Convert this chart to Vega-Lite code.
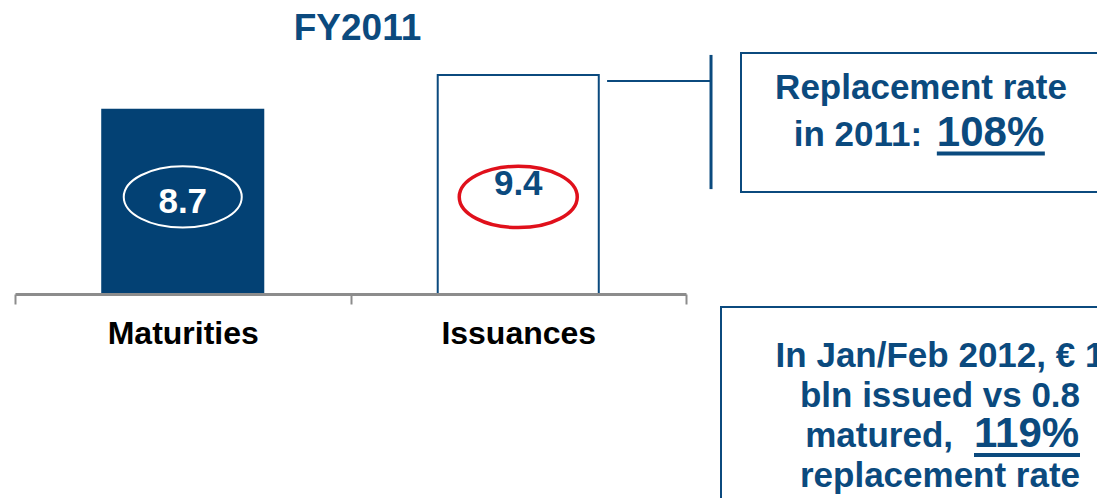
{
  "$schema": "https://vega.github.io/schema/vega-lite/v6.json",
  "background": "white",
  "padding": {"left": 14, "top": 10, "right": 0, "bottom": 0},
  "bounds": "flush",
  "spacing": 35,
  "config": {
    "font": "Liberation Sans",
    "view": {"stroke": null}
  },
  "hconcat": [
    {
      "width": 671,
      "height": 241,
      "title": {
        "text": "FY2011",
        "fontSize": 37,
        "fontWeight": "bold",
        "color": "#0b4a7e",
        "font": "Liberation Sans",
        "anchor": "middle",
        "dx": 7,
        "offset": 5
      },
      "data": {"values": [
        {"category": "Maturities", "value": 8.7},
        {"category": "Issuances", "value": 9.4}
      ]},
      "encoding": {
        "x": {
          "field": "category",
          "type": "nominal",
          "sort": null,
          "scale": {"paddingInner": 0, "paddingOuter": 0},
          "axis": {
            "title": null,
            "labelAngle": 0,
            "labelFont": "Liberation Sans",
            "labelFontSize": 32,
            "labelFontWeight": "bold",
            "labelColor": "#000000",
            "labelPadding": 14,
            "domainColor": "#8c8c8c",
            "domainWidth": 3,
            "tickColor": "#8c8c8c",
            "tickWidth": 2,
            "tickSize": 10,
            "tickBand": "extent",
            "grid": false,
            "zindex": 1
          }
        }
      },
      "layer": [
        {
          "mark": {"type": "bar", "width": {"band": 0.48}, "strokeWidth": 2},
          "encoding": {
            "y": {
              "field": "value",
              "type": "quantitative",
              "scale": {"domain": [5, 9.842], "zero": false, "nice": false},
              "axis": null
            },
            "y2": {"datum": 5},
            "fill": {
              "condition": {"test": "datum.category === 'Maturities'", "value": "#034174"},
              "value": "#ffffff"
            },
            "stroke": {
              "condition": {"test": "datum.category === 'Maturities'", "value": "#034174"},
              "value": "#0b4a7e"
            }
          }
        },
        {
          "mark": {
            "type": "point",
            "shape": "M-1,0A1,0.52,0,1,0,1,0A1,0.52,0,1,0,-1,0Z",
            "size": 13924,
            "filled": false,
            "opacity": 1
          },
          "encoding": {
            "y": {"datum": 6.95, "type": "quantitative"},
            "stroke": {
              "condition": {"test": "datum.category === 'Maturities'", "value": "#ffffff"},
              "value": "#e0101b"
            },
            "strokeWidth": {
              "condition": {"test": "datum.category === 'Maturities'", "value": 2},
              "value": 3.5
            }
          }
        },
        {
          "transform": [{"calculate": "(datum.value + 5) / 2", "as": "mid"}],
          "mark": {"type": "text", "fontSize": 35, "fontWeight": "bold", "baseline": "middle", "font": "Liberation Sans"},
          "encoding": {
            "y": {"field": "mid", "type": "quantitative"},
            "text": {"field": "value", "type": "quantitative", "format": ".1f"},
            "color": {
              "condition": {"test": "datum.category === 'Maturities'", "value": "#ffffff"},
              "value": "#0b4a7e"
            }
          }
        }
      ]
    },
    {
      "vconcat": [
        {
          "width": 360,
          "height": 139,
          "view": {"stroke": "#0b4a7e", "strokeWidth": 2},
          "data": {"values": [
            {"line": 1, "text": "Replacement rate", "kind": "center"},
            {"line": 2, "text": "in 2011:", "kind": "lead"},
            {"line": 2, "text": "108%", "kind": "figure"}
          ]},
          "layer": [
            {
              "transform": [{"filter": "datum.kind === 'center'"}],
              "mark": {"type": "text", "fontSize": 35, "fontWeight": "bold", "color": "#0b4a7e", "align": "center", "baseline": "alphabetic"},
              "encoding": {
                "x": {"datum": 0.5, "type": "quantitative", "scale": {"domain": [0, 1]}, "axis": null},
                "y": {"field": "line", "type": "quantitative", "scale": {"domain": [0.0417, 2.9375], "reverse": true}, "axis": null},
                "text": {"field": "text"}
              }
            },
            {
              "transform": [{"filter": "datum.kind === 'lead'"}],
              "mark": {"type": "text", "fontSize": 35, "fontWeight": "bold", "color": "#0b4a7e", "align": "right", "baseline": "alphabetic"},
              "encoding": {
                "x": {"datum": 0.503, "type": "quantitative"},
                "y": {"field": "line", "type": "quantitative"},
                "text": {"field": "text"}
              }
            },
            {
              "transform": [{"filter": "datum.kind === 'figure'"}],
              "mark": {"type": "text", "fontSize": 42, "fontWeight": "bold", "color": "#0b4a7e", "align": "left", "baseline": "alphabetic"},
              "encoding": {
                "x": {"datum": 0.544, "type": "quantitative"},
                "y": {"field": "line", "type": "quantitative"},
                "text": {"field": "text"}
              }
            },
            {
              "transform": [{"filter": "datum.kind === 'figure'"}],
              "mark": {"type": "rule", "color": "#0b4a7e", "strokeWidth": 4},
              "encoding": {
                "x": {"datum": 0.544, "type": "quantitative"},
                "x2": {"datum": 0.844},
                "y": {"datum": 2.167, "type": "quantitative"}
              }
            },
            {
              "transform": [{"filter": "datum.kind === 'center'"}],
              "mark": {"type": "rule", "color": "#0b4a7e", "strokeWidth": 3},
              "encoding": {
                "x": {"datum": -0.0833, "type": "quantitative"},
                "y": {"datum": 0.0417, "type": "quantitative"},
                "y2": {"datum": 2.9375}
              }
            },
            {
              "transform": [{"filter": "datum.kind === 'center'"}],
              "mark": {"type": "rule", "color": "#0b4a7e", "strokeWidth": 2},
              "encoding": {
                "x": {"datum": -0.372, "type": "quantitative"},
                "x2": {"datum": -0.0833},
                "y": {"datum": 0.604, "type": "quantitative"}
              }
            }
          ]
        },
        {
          "width": 400,
          "height": 220,
          "view": {"stroke": "#0b4a7e", "strokeWidth": 2},
          "data": {"values": [
            {"line": 1, "text": "In Jan/Feb 2012, € 1", "kind": "center"},
            {"line": 2, "text": "bln issued vs 0.8", "kind": "center"},
            {"line": 3, "text": "matured,", "kind": "lead"},
            {"line": 3, "text": "119%", "kind": "figure"},
            {"line": 4, "text": "replacement  rate", "kind": "center"}
          ]},
          "layer": [
            {
              "transform": [{"filter": "datum.kind === 'center'"}],
              "mark": {"type": "text", "fontSize": 35, "fontWeight": "bold", "color": "#0b4a7e", "align": "center", "baseline": "alphabetic"},
              "encoding": {
                "x": {"datum": 0.5475, "type": "quantitative", "scale": {"domain": [0, 1]}, "axis": null},
                "y": {"field": "line", "type": "quantitative", "scale": {"domain": [-0.0444, 4.8444], "reverse": true}, "axis": null},
                "text": {"field": "text"}
              }
            },
            {
              "transform": [{"filter": "datum.kind === 'lead'"}],
              "mark": {"type": "text", "fontSize": 35, "fontWeight": "bold", "color": "#0b4a7e", "align": "right", "baseline": "alphabetic"},
              "encoding": {
                "x": {"datum": 0.58, "type": "quantitative"},
                "y": {"field": "line", "type": "quantitative"},
                "text": {"field": "text"}
              }
            },
            {
              "transform": [{"filter": "datum.kind === 'figure'"}],
              "mark": {"type": "text", "fontSize": 42, "fontWeight": "bold", "color": "#0b4a7e", "align": "left", "baseline": "alphabetic"},
              "encoding": {
                "x": {"datum": 0.6325, "type": "quantitative"},
                "y": {"field": "line", "type": "quantitative"},
                "text": {"field": "text"}
              }
            },
            {
              "transform": [{"filter": "datum.kind === 'figure'"}],
              "mark": {"type": "rule", "color": "#0b4a7e", "strokeWidth": 4},
              "encoding": {
                "x": {"datum": 0.6325, "type": "quantitative"},
                "x2": {"datum": 0.8975},
                "y": {"datum": 3.2, "type": "quantitative"}
              }
            }
          ]
        }
      ],
      "spacing": 115,
      "center": true,
      "bounds": "flush"
    }
  ]
}
